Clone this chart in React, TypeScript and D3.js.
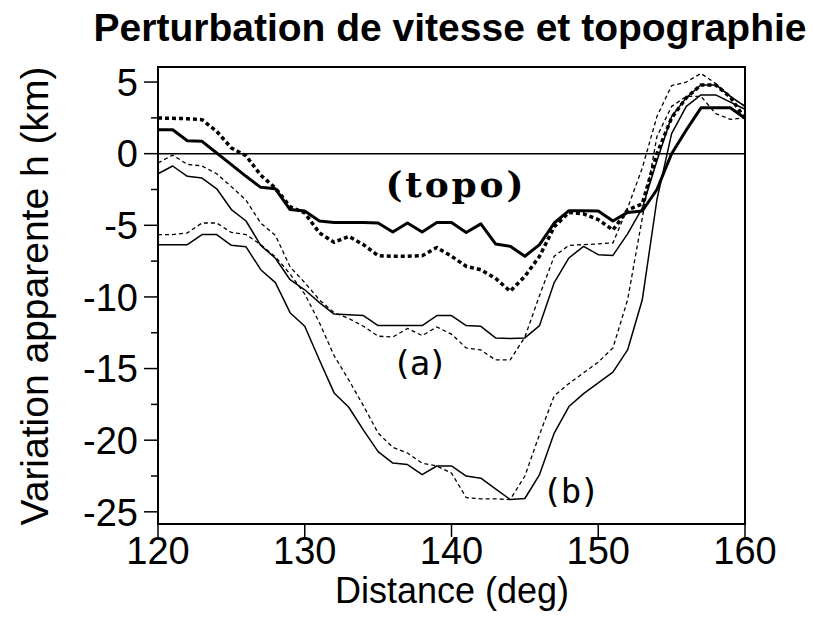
import * as d3 from "d3";
import React from "react";

// distance grid (deg), one sample per degree
const distance = d3.range(120, 161);

// thick solid : topography
const topo = [1.67, 1.67, 0.9, 0.86, 0.05, -0.77, -1.58, -2.35, -2.45, -3.9, -4.0, -4.7, -4.8, -4.8, -4.8, -4.84, -5.47, -4.84, -5.47, -4.8,
  -4.8, -5.5, -4.9, -6.3, -6.47, -7.16, -6.35, -4.84, -3.98, -3.98, -4.0, -4.7, -4.1, -4.0, -2.5, 0.0, 1.65, 3.2, 3.2, 3.2, 2.47];
// thick dotted
const dotted = [2.49, 2.47, 2.44, 2.37, 1.56, 0.4, -0.15, -1.5, -2.4, -3.7, -4.14, -5.53, -6.19, -5.77, -6.35, -7.12, -7.16, -7.16, -7.12, -6.55,
  -7.16, -7.86, -8.1, -8.7, -9.6, -8.56, -7.16, -5.1, -4.1, -4.2, -4.6, -5.33, -3.93, -3.5, 0.0, 2.5, 3.9, 4.8, 4.8, 3.95, 2.45];
// (a) thin solid / thin dashed
const aSolid = [-1.4, -0.86, -1.58, -1.7, -2.45, -3.9, -4.7, -6.4, -7.3, -8.8, -9.5, -10.4, -11.2, -11.25, -11.3, -12.0, -12.0, -12.0, -12.0, -11.3,
  -11.3, -12.0, -12.05, -12.86, -12.9, -12.86, -12.0, -9.0, -7.28, -6.47, -7.05, -7.1, -5.6, -3.8, -0.5, 2.6, 3.9, 4.8, 4.8, 4.0, 3.3];
const aDashed = [-0.65, -0.1, -0.75, -0.86, -1.4, -2.3, -3.25, -4.84, -5.7, -7.9, -9.0, -10.2, -11.1, -11.5, -12.05, -12.74, -12.8, -12.2, -12.7, -12.1,
  -12.6, -13.56, -13.7, -14.4, -14.4, -12.8, -9.9, -7.16, -6.4, -6.35, -6.3, -6.23, -3.8, -1.0, 2.6, 4.75, 5.0, 5.6, 4.9, 4.0, 3.3];
// (b) thin solid / thin dashed
const bSolid = [-6.35, -6.35, -6.35, -5.65, -5.65, -6.4, -6.5, -8.1, -9.0, -11.1, -12.05, -14.4, -16.7, -17.7, -19.3, -20.8, -21.6, -21.7, -22.4, -21.8,
  -21.8, -22.5, -22.65, -23.4, -24.14, -24.07, -22.4, -19.5, -17.65, -16.75, -16.0, -15.25, -13.7, -10.2, -3.2, 1.4, 3.3, 4.1, 4.1, 3.6, 3.1];
const bDashed = [-5.65, -5.65, -5.53, -4.84, -4.84, -5.5, -5.65, -6.35, -7.2, -8.4, -9.8, -11.8, -14.1, -15.8, -17.6, -19.5, -20.5, -20.9, -21.6, -21.8,
  -22.3, -24.0, -24.1, -24.1, -24.14, -22.5, -19.6, -16.9, -16.05, -15.3, -14.55, -13.56, -10.2, -4.5, 1.2, 3.3, 4.0, 4.0, 2.8, 2.4, 2.5];

const xTicks = [120, 130, 140, 150, 160];
const yTicks = [5, 0, -5, -10, -15, -20, -25];
const yMinor = [2.5, -2.5, -7.5, -12.5, -17.5, -22.5];

const series = [
  { values: bSolid, width: 1.5, dash: null },
  { values: bDashed, width: 1.3, dash: "4,3" },
  { values: aSolid, width: 1.5, dash: null },
  { values: aDashed, width: 1.3, dash: "4,3" },
  { values: dotted, width: 3.5, dash: "4,3" },
  { values: topo, width: 3, dash: null },
];

const x = d3.scaleLinear().domain([120, 160]).range([158, 745]);
const y = d3.scaleLinear().domain([-25.85, 6.05]).range([524, 67]);

const line = d3.line<number>()
  .x((_v, i) => x(distance[i]))
  .y((v) => y(v));

const sans = "'Liberation Sans', Arial, sans-serif";

export default function App() {
  return (
    <svg width={813} height={621} style={{ position: "absolute", left: 0, top: 0, background: "#fff" }}>
      <text x={450} y={41} textAnchor="middle" fontFamily={sans} fontWeight="bold" fontSize={39}>
        Perturbation de vitesse et topographie
      </text>

      <line x1={x(120)} x2={x(160)} y1={y(0)} y2={y(0)} stroke="#000" strokeWidth={1.5} />
      {series.map((s, i) => (
        <path key={i} d={line(s.values) || ""} fill="none" stroke="#000"
          strokeWidth={s.width} strokeDasharray={s.dash || undefined} strokeLinejoin="round" />
      ))}

      <rect x={x(120)} y={y(6.05)} width={x(160) - x(120)} height={y(-25.85) - y(6.05)}
        fill="none" stroke="#000" strokeWidth={2} />

      {yTicks.map((t) => (
        <g key={t}>
          <line x1={x(120) - 14} x2={x(120)} y1={y(t)} y2={y(t)} stroke="#000" strokeWidth={1.5} />
          <text x={x(120) - 20} y={y(t)} dy="0.36em" textAnchor="end" fontFamily={sans} fontSize={38}>{t}</text>
        </g>
      ))}
      {yMinor.map((t) => (
        <line key={t} x1={x(120) - 7} x2={x(120)} y1={y(t)} y2={y(t)} stroke="#000" strokeWidth={1.5} />
      ))}
      {xTicks.map((t) => (
        <g key={t}>
          <line x1={x(t)} x2={x(t)} y1={y(-25.85)} y2={y(-25.85) + 13} stroke="#000" strokeWidth={1.5} />
          <text x={x(t)} y={564} textAnchor="middle" fontFamily={sans} fontSize={38}>{t}</text>
        </g>
      ))}

      <text x={452} y={603} textAnchor="middle" fontFamily={sans} fontSize={36}>Distance (deg)</text>
      <text transform="translate(48,296) rotate(-90)" textAnchor="middle" fontFamily={sans} fontSize={39}>
        Variation apparente h (km)
      </text>

      <text x={x(140.2)} y={197} textAnchor="middle" fontFamily="'DejaVu Serif', serif" fontWeight="bold"
        fontSize={36} textLength={138} lengthAdjust="spacing">(topo)</text>
      <text x={x(137.85)} y={375} textAnchor="middle" fontFamily="'DejaVu Sans Mono', monospace"
        fontSize={34} textLength={56} lengthAdjust="spacing">(a)</text>
      <text x={x(148.15)} y={503} textAnchor="middle" fontFamily="'DejaVu Sans Mono', monospace"
        fontSize={34} textLength={58} lengthAdjust="spacing">(b)</text>
    </svg>
  );
}
